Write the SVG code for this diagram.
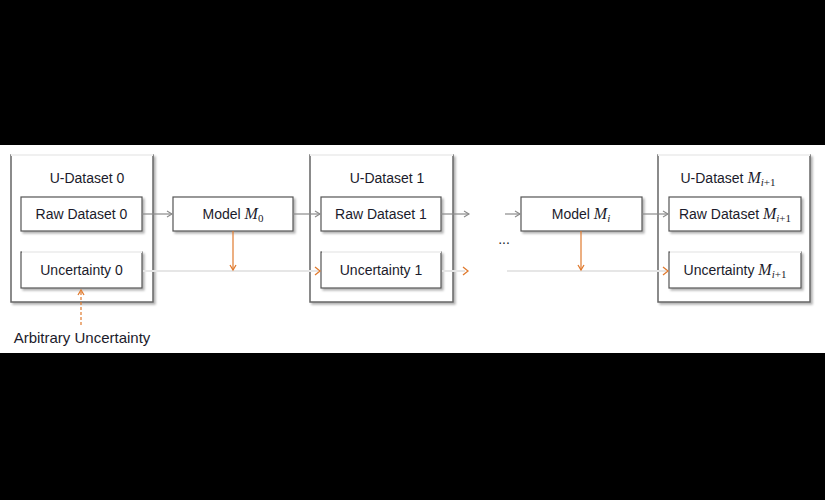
<svg xmlns="http://www.w3.org/2000/svg" width="825" height="500" viewBox="0 0 825 500">
<style>
text{font-family:"Liberation Sans",Arial,sans-serif;font-size:14px;fill:#1b1b2b;text-anchor:middle}
.m{font-family:"Liberation Serif","Times New Roman",serif;font-style:italic;font-size:16px}
.s{font-family:"Liberation Serif","Times New Roman",serif;font-size:11px}
.si{font-family:"Liberation Serif","Times New Roman",serif;font-style:italic;font-size:11px}
.box{fill:#fff;stroke:#555;stroke-width:1.2}
.outer{fill:#fff;stroke:#666;stroke-width:1.5}
.faint{stroke:#f0f0f0;stroke-width:2}
.ga{stroke:#8a8a8a;stroke-width:1.2;fill:none;marker-end:url(#ah)}
.oa{stroke:#e07a2e;stroke-width:1.2;fill:none;marker-end:url(#oh)}
.fl{stroke:#e6e6e6;stroke-width:2;fill:none}
.oh{fill:none;stroke:#e07a2e;stroke-width:1.3}
</style>
<defs>
<filter id="sh" x="-10%" y="-10%" width="130%" height="140%">
<feDropShadow dx="2" dy="2" stdDeviation="1.2" flood-color="#000" flood-opacity="0.3"/>
</filter>
<marker id="ah" markerWidth="8" markerHeight="8" refX="6" refY="4" orient="auto" markerUnits="userSpaceOnUse">
<path d="M1,1 L6,4 L1,7" fill="none" stroke="#8a8a8a" stroke-width="1.1"/>
</marker>
<marker id="oh" markerWidth="8" markerHeight="8" refX="6" refY="4" orient="auto" markerUnits="userSpaceOnUse">
<path d="M1,1 L6,4 L1,7" fill="none" stroke="#e07a2e" stroke-width="1.3"/>
</marker>
</defs>
<rect x="0" y="0" width="825" height="500" fill="#000"/>
<rect x="0" y="145" width="825" height="208" fill="#fff"/>

<g id="udataset0">
<rect class="outer" x="11" y="155" width="142" height="147" filter="url(#sh)"/>
<line class="faint" x1="11" y1="155" x2="153" y2="155"/>
<text x="87" y="183">U-Dataset 0</text>
</g>
<g id="raw0">
<rect class="box" x="21" y="197" width="121" height="34" filter="url(#sh)"/>
<text x="81.5" y="219">Raw Dataset 0</text>
</g>
<g id="unc0">
<rect class="box" x="21" y="252" width="121" height="36" filter="url(#sh)"/>
<line class="faint" x1="22" y1="252" x2="142" y2="252"/>
<text x="81.5" y="275">Uncertainty 0</text>
</g>
<g id="model0">
<rect class="box" x="173" y="197" width="120" height="34" filter="url(#sh)"/>
<text x="233" y="219">Model <tspan class="m">M</tspan><tspan class="s" dy="3">0</tspan></text>
</g>
<g id="udataset1">
<rect class="outer" x="310" y="155" width="143" height="147" filter="url(#sh)"/>
<line class="faint" x1="310" y1="155" x2="453" y2="155"/>
<text x="387" y="183">U-Dataset 1</text>
</g>
<g id="raw1">
<rect class="box" x="321" y="197" width="120" height="34" filter="url(#sh)"/>
<text x="381" y="219">Raw Dataset 1</text>
</g>
<g id="unc1">
<rect class="box" x="321" y="252" width="120" height="36" filter="url(#sh)"/>
<line class="faint" x1="322" y1="252" x2="441" y2="252"/>
<text x="381" y="275">Uncertainty 1</text>
</g>
<g id="modeli">
<rect class="box" x="521" y="197" width="121" height="34" filter="url(#sh)"/>
<text x="581" y="219">Model <tspan class="m">M</tspan><tspan class="si" dy="3">i</tspan></text>
</g>
<g id="udatasetn">
<rect class="outer" x="658" y="155" width="152" height="147" filter="url(#sh)"/>
<line class="faint" x1="658" y1="155" x2="810" y2="155"/>
<text x="728" y="183">U-Dataset <tspan class="m">M</tspan><tspan class="si" dy="3">i</tspan><tspan class="s">+1</tspan></text>
</g>
<g id="rawn">
<rect class="box" x="669" y="197" width="132" height="34" filter="url(#sh)"/>
<text x="735" y="219">Raw Dataset <tspan class="m">M</tspan><tspan class="si" dy="3">i</tspan><tspan class="s">+1</tspan></text>
</g>
<g id="uncn">
<rect class="box" x="669" y="252" width="132" height="36" filter="url(#sh)"/>
<line class="faint" x1="670" y1="252" x2="801" y2="252"/>
<text x="735" y="275">Uncertainty <tspan class="m">M</tspan><tspan class="si" dy="3">i</tspan><tspan class="s">+1</tspan></text>
</g>
<g id="ellipsis">
<text x="504" y="244">...</text>
</g>
<g id="arbitrary">
<text x="82" y="343" style="font-size:15px">Arbitrary Uncertainty</text>
</g>

<g id="connectors">
<line class="ga" x1="142" y1="214" x2="172" y2="214"/>
<line class="ga" x1="293" y1="214" x2="320" y2="214"/>
<line class="ga" x1="441" y1="214" x2="469" y2="214"/>
<line class="ga" x1="505" y1="214" x2="520" y2="214"/>
<line class="ga" x1="642" y1="214" x2="668" y2="214"/>
<line class="fl" x1="143" y1="271" x2="318" y2="271"/>
<line class="fl" x1="442" y1="271" x2="465" y2="271"/>
<line class="fl" x1="507" y1="271" x2="666" y2="271"/>
<path class="oh" d="M315,267 L320,271 L315,275"/>
<path class="oh" d="M463,267 L468,271 L463,275"/>
<path class="oh" d="M663,267 L668,271 L663,275"/>
<line class="oa" x1="233" y1="231" x2="233" y2="270"/>
<line class="oa" x1="581" y1="231" x2="581" y2="270"/>
<line class="oa" x1="81" y1="325" x2="81" y2="290" stroke-dasharray="3,2"/>
</g>
</svg>
